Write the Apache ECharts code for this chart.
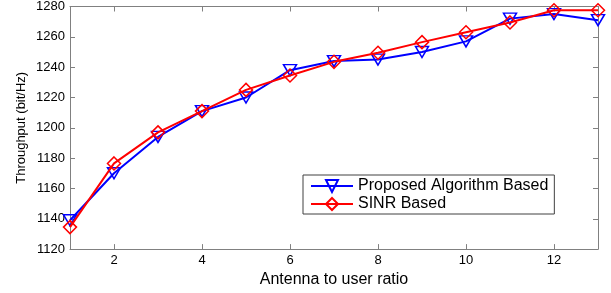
<!DOCTYPE html>
<html>
<head>
<meta charset="utf-8">
<script src="https://cdn.jsdelivr.net/npm/echarts@6/dist/echarts.min.js"></script>
<style>
html,body{margin:0;padding:0;background:#fff;}
#c{width:611px;height:293px;}
</style>
</head>
<body>
<div id="c"></div>
<script>
var ratios = [1,2,3,4,5,6,7,8,9,10,11,12,13];
var proposed = [1139,1170,1194,1211,1220,1238,1244,1245,1250,1257,1272,1275,1271];
var sinr = [1134.5,1176.5,1197,1211,1225,1234.5,1243.5,1249.5,1256.5,1263,1269.5,1277.5,1277.5];
var xTicks = [2,4,6,8,10,12];
var yTicks = [1120,1140,1160,1180,1200,1220,1240,1260,1280];
var seriesNames = ['Proposed Algorithm Based','SINR Based'];

function pairs(xs, ys){ return xs.map(function(x,i){ return [x, ys[i]]; }); }
function plain(v){ return String(v); }

var axisGray = '#808080';
var font = 'Liberation Sans, Arial, sans-serif';

var chart = echarts.init(document.getElementById('c'), null, {renderer:'canvas'});
chart.setOption({
  animation:false,
  backgroundColor:'#fff',
  grid:{left:70, right:13, top:6, bottom:40, containLabel:false},
  xAxis:[{
    type:'value', min:1, max:13, position:'bottom',
    name:'Antenna to user ratio', nameLocation:'middle', nameGap:17,
    nameTextStyle:{fontFamily:font, fontSize:16, color:'#000', verticalAlign:'top'},
    axisLine:{show:true, lineStyle:{color:axisGray, width:1}},
    axisTick:{show:true, inside:true, length:5, customValues:xTicks, lineStyle:{color:axisGray}},
    axisLabel:{show:true, customValues:xTicks, margin:5, fontFamily:font, fontSize:13, color:'#000', formatter:plain},
    splitLine:{show:false}
  },{
    type:'value', min:1, max:13, position:'top',
    axisLine:{show:true, onZero:false, lineStyle:{color:axisGray, width:1}},
    axisTick:{show:true, inside:true, length:5, customValues:xTicks, lineStyle:{color:axisGray}},
    axisLabel:{show:false},
    splitLine:{show:false}
  }],
  yAxis:[{
    type:'value', min:1120, max:1280, interval:20, position:'left',
    name:'Throughput (bit/Hz)', nameLocation:'middle', nameGap:42,
    nameMoveOverlap:false,
    nameTextStyle:{fontFamily:font, fontSize:13, color:'#000'},
    axisLine:{show:true, lineStyle:{color:axisGray, width:1}},
    axisTick:{show:true, inside:true, length:5, customValues:yTicks, lineStyle:{color:axisGray}},
    axisLabel:{show:true, customValues:yTicks, margin:5, fontFamily:font, fontSize:13, color:'#000', formatter:plain},
    splitLine:{show:false}
  },{
    type:'value', min:1120, max:1280, interval:20, position:'right',
    axisLine:{show:true, onZero:false, lineStyle:{color:axisGray, width:1}},
    axisTick:{show:true, inside:true, length:5, customValues:yTicks, lineStyle:{color:axisGray}},
    axisLabel:{show:false},
    splitLine:{show:false}
  }],
  legend:{
    orient:'vertical', left:303, top:175,
    padding:[3,6,2,7], itemGap:2, itemWidth:42, itemHeight:15,
    backgroundColor:'#fff', borderColor:'#404040', borderWidth:1,
    textStyle:{fontFamily:font, fontSize:16, color:'#000'},
    data:seriesNames
  },
  series:[{
    name:seriesNames[0], type:'line', data:pairs(ratios, proposed),
    symbol:'triangle', symbolRotate:180, symbolSize:[13,11],
    lineStyle:{color:'#0000ff', width:2},
    itemStyle:{color:'rgba(0,0,0,0)', borderColor:'#0000ff', borderWidth:1.5},
    z:3
  },{
    name:seriesNames[1], type:'line', data:pairs(ratios, sinr),
    symbol:'diamond', symbolSize:[13,13],
    lineStyle:{color:'#ff0000', width:2},
    itemStyle:{color:'rgba(0,0,0,0)', borderColor:'#ff0000', borderWidth:1.5},
    z:4
  }]
});
</script>
</body>
</html>
